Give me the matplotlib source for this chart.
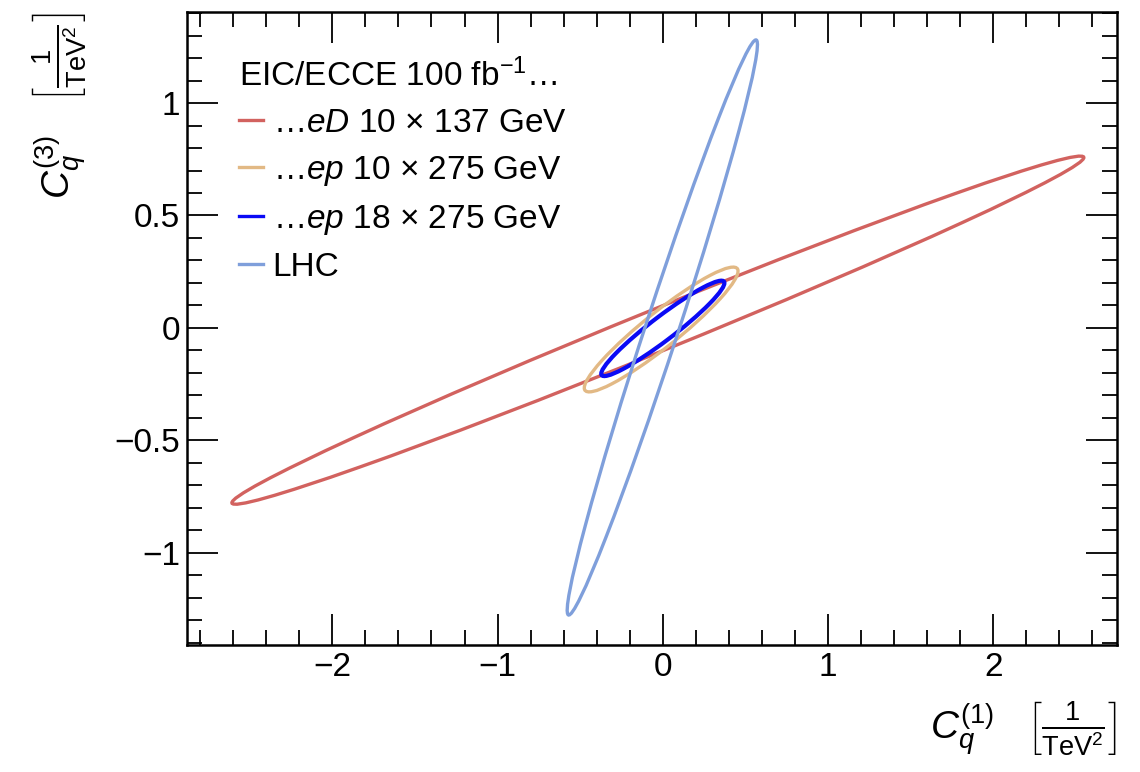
import matplotlib
matplotlib.use('Agg')
import matplotlib.pyplot as plt
from matplotlib.patches import Ellipse
from matplotlib.lines import Line2D
from matplotlib.ticker import MultipleLocator, FuncFormatter

# ellipse parameters in data units: centre, semi-axes, rotation angle (deg)
labels = [r'…$eD$ 10 × 137 GeV', r'…$ep$ 10 × 275 GeV', r'…$ep$ 18 × 275 GeV', 'LHC']
centre_x = [-0.03, -0.01, 0.0, -0.003]
centre_y = [-0.01, -0.007, -0.002, 0.002]
semi_major = [2.69, 0.535, 0.425, 1.399]
semi_minor = [0.096, 0.085, 0.058, 0.096]
angle_deg = [16.6, 30.0, 29.0, 66.0]
colors = ['#d2625f', '#e2b985', '#0a0af5', '#7f9fdb']
widths = [2.4, 2.4, 3.0, 2.4]

plt.rcParams['font.family'] = ['Liberation Sans', 'DejaVu Sans']
plt.rcParams['mathtext.fontset'] = 'custom'
plt.rcParams['mathtext.rm'] = 'Liberation Sans'
plt.rcParams['mathtext.it'] = 'Liberation Sans:italic'
plt.rcParams['mathtext.bf'] = 'Liberation Sans:bold'

fig = plt.figure(figsize=(11.4, 7.72), dpi=100)
ax = fig.add_axes([0.164, 0.1645, 0.816, 0.82])

for i in range(len(labels)):
    ax.add_patch(Ellipse((centre_x[i], centre_y[i]), 2 * semi_major[i], 2 * semi_minor[i],
                         angle=angle_deg[i], fill=False, edgecolor=colors[i], lw=widths[i]))

ax.set_xlim(-2.88, 2.75)
ax.set_ylim(-1.41, 1.405)
ax.xaxis.set_major_locator(MultipleLocator(1))
ax.xaxis.set_minor_locator(MultipleLocator(0.2))
ax.yaxis.set_major_locator(MultipleLocator(0.5))
ax.yaxis.set_minor_locator(MultipleLocator(0.1))
ax.tick_params(which='both', direction='in', top=True, right=True, width=1.3, labelsize=24)
ax.tick_params(which='major', length=22, pad=5)
ax.tick_params(which='minor', length=11)
fmt = FuncFormatter(lambda v, p: f'{v:g}'.replace('-', '\u2212'))
ax.xaxis.set_major_formatter(fmt)
ax.yaxis.set_major_formatter(fmt)
for s in ax.spines.values():
    s.set_linewidth(1.8)

unit = r'$\left[\frac{1}{\mathrm{TeV}^2}\right]$'
ax.set_xlabel(r'$C_q^{(1)}$   ' + unit, fontsize=28, loc='right')
ax.xaxis.set_label_coords(1.0, -0.085)
ax.xaxis.label.set_va('top')
ax.set_ylabel(r'$C_q^{(3)}$   ' + unit, fontsize=28, loc='top')
ax.yaxis.set_label_coords(-0.105, 1.0)

handles = [Line2D([], [], color=c, lw=2.4) for c in colors]
leg = ax.legend(handles, labels, loc='upper left', bbox_to_anchor=(0.024, 0.974),
                title=r'EIC/ECCE 100 fb$^{-1}$…', alignment='left',
                fontsize=24, title_fontsize=24, frameon=False,
                handlelength=0.7, handletextpad=0.3, labelspacing=0.45)

fig.savefig('out.png', dpi=100)
